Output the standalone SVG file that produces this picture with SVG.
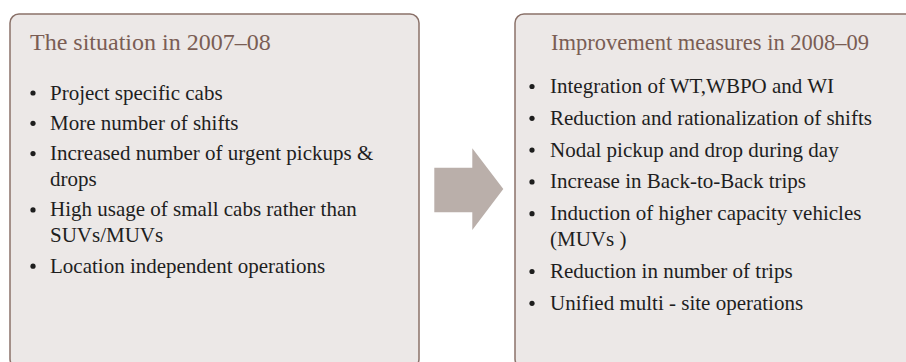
<svg xmlns="http://www.w3.org/2000/svg" width="906" height="362" viewBox="0 0 906 362">
<style>
.box{fill:#ECE8E7;stroke:#8A7169;stroke-width:1.5}
.title{font-family:"Liberation Serif","Times New Roman",serif;fill:#7A5D54}
.item{font-family:"Liberation Serif","Times New Roman",serif;font-size:21px;fill:#1E1E1E}
.dot{fill:#1E1E1E}
.arrow{fill:#BAAFAA}
</style>
<rect width="906" height="362" fill="#FFFFFF"/>
<g id="node-situation">
<rect class="box" x="10" y="14" width="409" height="354" rx="9" ry="9"/>
<text class="title" x="30" y="50" font-size="24">The situation in 2007–08</text>
<circle class="dot" cx="33" cy="93" r="2.6"/>
<text class="item" x="50" y="99.5">Project specific cabs</text>
<circle class="dot" cx="33" cy="123.3" r="2.6"/>
<text class="item" x="50" y="129.8">More number of shifts</text>
<circle class="dot" cx="33" cy="153.6" r="2.6"/>
<text class="item" x="50" y="160.1">Increased number of urgent pickups &amp;</text>
<text class="item" x="50" y="186.1">drops</text>
<circle class="dot" cx="33" cy="209.9" r="2.6"/>
<text class="item" x="50" y="216.4">High usage of small cabs rather than</text>
<text class="item" x="50" y="242.4">SUVs/MUVs</text>
<circle class="dot" cx="33" cy="266.2" r="2.6"/>
<text class="item" x="50" y="272.7">Location independent operations</text>
</g>
<g id="connectors">
<polygon class="arrow" points="434.3,167.7 472.3,167.7 472.3,148.3 503.3,189 472.3,230 472.3,212.3 434.3,212.3"/>
</g>
<g id="node-improvement">
<rect class="box" x="515" y="14" width="410" height="354" rx="9" ry="9"/>
<text class="title" x="551" y="50" font-size="22.5">Improvement measures in 2008–09</text>
<circle class="dot" cx="532" cy="86.5" r="2.6"/>
<text class="item" x="550" y="93">Integration of WT,WBPO and WI</text>
<circle class="dot" cx="532" cy="118.3" r="2.6"/>
<text class="item" x="550" y="124.8">Reduction and rationalization of shifts</text>
<circle class="dot" cx="532" cy="150.1" r="2.6"/>
<text class="item" x="550" y="156.6">Nodal pickup and drop during day</text>
<circle class="dot" cx="532" cy="181.9" r="2.6"/>
<text class="item" x="550" y="188.4">Increase in Back-to-Back trips</text>
<circle class="dot" cx="532" cy="213.7" r="2.6"/>
<text class="item" x="550" y="220.2">Induction of higher capacity vehicles</text>
<text class="item" x="550" y="246.2">(MUVs )</text>
<circle class="dot" cx="532" cy="271.5" r="2.6"/>
<text class="item" x="550" y="278">Reduction in number of trips</text>
<circle class="dot" cx="532" cy="303.3" r="2.6"/>
<text class="item" x="550" y="309.8">Unified multi - site operations</text>
</g>
</svg>
